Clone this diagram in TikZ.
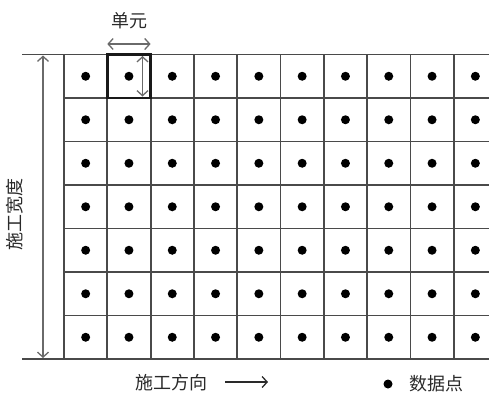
\documentclass[tikz,border=0pt]{standalone}
\usepackage{fontspec}
\newfontfamily\cjk{Noto Sans CJK SC}
\usetikzlibrary{arrows.meta}
\definecolor{gridc}{HTML}{4A4A4A}
\definecolor{arrc}{HTML}{6A6A6A}
\definecolor{txtc}{HTML}{2A2A2A}
\tikzset{
  gridline/.style={draw=gridc, line width=1.8pt},
  dimarrow/.style={draw=arrc, line width=1.3pt, {Straight Barb[length=5pt,width=11pt]}-{Straight Barb[length=5pt,width=11pt]}},
  dirarrow/.style={draw=txtc, line width=1.3pt, -{Straight Barb[length=5pt,width=11pt]}},
  label/.style={text=txtc, font=\cjk\fontsize{18}{18}\selectfont, inner sep=0pt},
  datadot/.style={circle, fill=black, inner sep=0pt, minimum size=9pt},
  unitcell/.style={draw=black!90, line width=2.4pt}
}
\begin{document}
\begin{tikzpicture}[x=1pt,y=-1pt]
\useasboundingbox (0,0) rectangle (489,392);
\begin{scope}
\clip (0,0) rectangle (489,392);
% horizontal lines
\foreach \j in {1,...,6} \draw[gridline] (64,54.5+43.5*\j) -- (489,54.5+43.5*\j);
\draw[gridline] (22,54.5) -- (489,54.5);
\draw[gridline] (22,359) -- (489,359);
% vertical lines
\foreach \i in {0,...,9} \draw[gridline] (64+43.3*\i,54.5) -- (64+43.3*\i,359);
% dots
\foreach \i in {0,...,9} \foreach \j in {0,...,6}
  \node[datadot] (d\i-\j) at (64+43.3*\i+21.65,54.5+43.5*\j+21.75) {};
\end{scope}
% highlighted unit cell
\draw[unitcell] (107.3,54.5) rectangle (150.6,98);
% dimension arrows
\coordinate (wt) at (43,55.5);
\coordinate (wb) at (43,358);
\draw[dimarrow] (wt) -- (wb);
\coordinate (ul) at (107.3,44);
\coordinate (ur) at (150.6,44);
\draw[dimarrow] (ul) -- (ur);
\coordinate (vt) at (142.5,56);
\coordinate (vb) at (142.5,96.5);
\draw[dimarrow] (vt) -- (vb);
% labels
\node[label] (unit) at (129,21) {单元};
\node[label, rotate=90] (width) at (15,214) {施工宽度};
\node[label] (dir) at (171,383) {施工方向};
\coordinate (da) at (225,382);
\coordinate (db) at (268,382);
\draw[dirarrow] (da) -- (db);
\node[datadot] (legdot) at (388,384) {};
\node[label] (data) at (436,384) {数据点};
\end{tikzpicture}
\end{document}
